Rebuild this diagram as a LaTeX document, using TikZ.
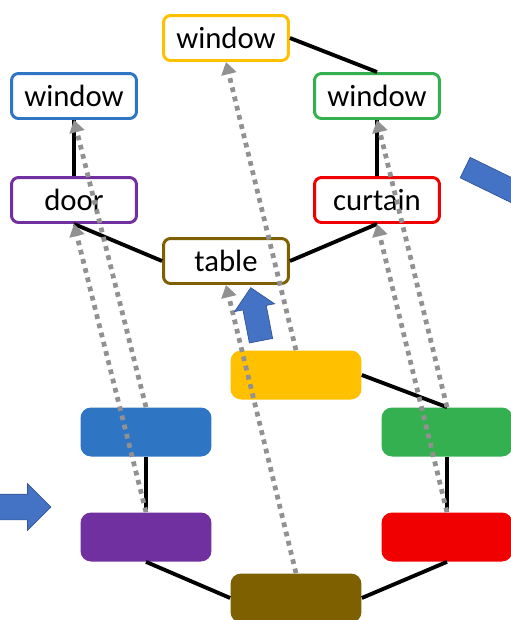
\documentclass[tikz,border=0pt]{standalone}
\usepackage{xcolor}
\usepackage{fontspec}
\setmainfont{Carlito}
\usepackage{tikz}
\usetikzlibrary{shapes.arrows,arrows.meta,positioning}
\definecolor{winyellow}{RGB}{255,192,0}
\definecolor{winblue}{RGB}{46,117,196}
\definecolor{wingreen}{RGB}{52,176,80}
\definecolor{winpurple}{RGB}{112,48,160}
\definecolor{winred}{RGB}{240,0,0}
\definecolor{winbrown}{RGB}{127,96,0}
\definecolor{arrowblue}{RGB}{68,114,196}
\definecolor{dotgray}{RGB}{145,145,145}

\begin{document}
\begin{tikzpicture}[
    x=0.02cm, y=-0.02cm,
    objbox/.style={rectangle, draw=#1, fill=white, line width=1.7pt, rounded corners=4pt, minimum width=2.5cm, minimum height=0.9cm, inner sep=0pt, font=\fontsize{17.5}{20}\selectfont},
    bar/.style={rectangle, fill=#1, rounded corners=6pt, minimum width=2.62cm, minimum height=0.98cm, inner sep=0pt},
    link/.style={line width=2.2pt},
    match/.style={-{Triangle[length=7pt,width=8.5pt]}, dotgray, line width=2.7pt, dash pattern=on 2.7pt off 2.7pt},
    bigarrow/.style={single arrow, fill=arrowblue, draw=arrowblue!75!black, line width=0.4pt, inner xsep=0pt}
]
    \path[use as bounding box, clip] (0,0) rectangle (511,620);

    % scene graph
    \node[objbox=winyellow] (ywin) at (226,38) {window};
    \node[objbox=winblue] (bwin) at (74,96) {window};
    \node[objbox=wingreen] (gwin) at (377,96) {window};
    \node[objbox=winpurple] (door) at (74,200) {door};
    \node[objbox=winred] (curtain) at (377,200) {curtain};
    \node[objbox=winbrown] (table) at (226,261) {table};

    \draw[link] (ywin.east) -- (gwin.north);
    \draw[link] (bwin.south) -- (door.north);
    \draw[link] (gwin.south) -- (curtain.north);
    \draw[link] (door.south) -- (table.west);
    \draw[link] (table.east) -- (curtain.south);

    % region graph
    \node[bar=winyellow] (ybar) at (296,375) {};
    \node[bar=winblue] (bbar) at (146,432) {};
    \node[bar=wingreen] (gbar) at (447,432) {};
    \node[bar=winpurple] (pbar) at (146,537) {};
    \node[bar=winred] (rbar) at (447,537) {};
    \node[bar=winbrown] (brbar) at (296,598) {};

    \draw[link] (ybar.east) -- (gbar.north);
    \draw[link] (bbar.south) -- (pbar.north);
    \draw[link] (gbar.south) -- (rbar.north);
    \draw[link] (pbar.south) -- (brbar.west);
    \draw[link] (brbar.east) -- (rbar.south);

    % matches
    \draw[match] (pbar.north) -- (door.south);
    \draw[match] (bbar.north) -- (bwin.south);
    \draw[match] (gbar.north) -- (gwin.south);
    \draw[match] (rbar.north) -- (curtain.south);
    \draw[match] (brbar.north) -- (table.south);
    \draw[match] (ybar.north) -- (ywin.south);

    % block arrows
    \node[bigarrow, inner ysep=0.25cm, single arrow head extend=0.21cm, minimum width=0.92cm, minimum height=1.1cm] (inarrow) at (17,507) {};
    \node[bigarrow, inner ysep=0.23cm, single arrow head extend=0.17cm, minimum width=0.8cm, minimum height=1.08cm, rotate=101] (uparrow) at (257,320) {};
    \node[bigarrow, inner ysep=0.22cm, single arrow head extend=0.2cm, minimum width=0.84cm, minimum height=2cm, rotate=-26] (outarrow) at (505,187) {};
\end{tikzpicture}
\end{document}
